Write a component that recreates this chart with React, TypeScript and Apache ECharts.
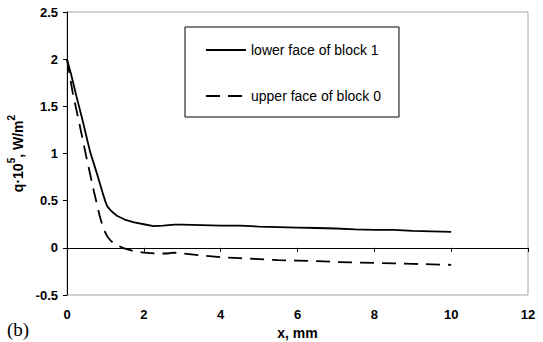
import React, { useEffect, useRef } from "react";
import * as echarts from "echarts";

const lowerX = [0, 0.1, 0.25, 0.4, 0.6, 0.8, 0.93, 1.0, 1.05, 1.15, 1.3, 1.5, 1.75, 2.0, 2.25, 2.5, 2.8, 3.0, 3.5, 4.0, 4.5, 5.0, 5.5, 6.0, 6.5, 7.0, 7.5, 8.0, 8.5, 9.0, 9.5, 10];
const lowerY = [2.0, 1.85, 1.6, 1.36, 1.02, 0.76, 0.58, 0.49, 0.44, 0.39, 0.34, 0.3, 0.27, 0.25, 0.23, 0.235, 0.245, 0.245, 0.24, 0.235, 0.235, 0.225, 0.22, 0.215, 0.21, 0.205, 0.195, 0.19, 0.19, 0.18, 0.175, 0.17];

const upperX = [0, 0.15, 0.3, 0.5, 0.7, 0.85, 0.95, 1.05, 1.15, 1.3, 1.45, 1.6, 1.8, 2.0, 2.3, 2.6, 2.8, 3.0, 3.5, 4.0, 4.5, 5.0, 5.5, 6.0, 6.5, 7.0, 7.5, 8.0, 8.5, 9.0, 9.5, 10];
const upperY = [2.0, 1.64, 1.36, 0.97, 0.6, 0.34, 0.2, 0.12, 0.07, 0.03, 0.0, -0.02, -0.04, -0.05, -0.06, -0.06, -0.05, -0.06, -0.08, -0.1, -0.11, -0.12, -0.13, -0.135, -0.14, -0.15, -0.155, -0.16, -0.165, -0.17, -0.175, -0.18];

const seriesNames = ["lower face of block 1", "upper face of block 0"];

const FONT = "Liberation Sans, Arial, sans-serif";

export default function App() {
  const ref = useRef<HTMLDivElement>(null);
  useEffect(() => {
    if (!ref.current) return;
    const chart = echarts.init(ref.current, null, { renderer: "svg" });
    chart.setOption({
      animation: false,
      backgroundColor: "#fff",
      grid: {
        left: 67,
        right: 15,
        top: 12,
        bottom: 47,
        show: true,
        borderColor: "#a6a6a6",
        borderWidth: 1,
        containLabel: false,
        outerBoundsMode: "none",
      },
      legend: {
        left: 185,
        top: 27,
        orient: "vertical",
        backgroundColor: "#fff",
        borderColor: "#000",
        borderWidth: 1,
        padding: [16, 18, 14, 20],
        itemGap: 32,
        itemWidth: 40,
        itemHeight: 14,
        itemStyle: { opacity: 0 },
        textStyle: { fontSize: 14, color: "#000", fontFamily: FONT },
        data: seriesNames,
      },
      xAxis: {
        type: "value",
        min: 0,
        max: 12,
        interval: 2,
        name: "x, mm",
        nameLocation: "middle",
        nameGap: 31,
        nameTextStyle: { fontSize: 14, fontWeight: "bold", color: "#000", fontFamily: FONT },
        axisLine: { lineStyle: { color: "#000", width: 1 } },
        axisTick: { show: true, inside: false, length: 4, lineStyle: { color: "#000" } },
        axisLabel: { fontSize: 13, fontWeight: "bold", color: "#000", margin: 13, fontFamily: FONT },
        splitLine: { show: false },
      },
      yAxis: {
        type: "value",
        min: -0.5,
        max: 2.5,
        interval: 0.5,
        name: "{a|q·10}{s|5}{a|, W/m}{s|2}",
        nameLocation: "middle",
        nameGap: 36,
        nameRotate: 90,
        nameTextStyle: {
          rich: {
            a: { fontSize: 14, fontWeight: "bold", color: "#000", fontFamily: FONT, lineHeight: 18, verticalAlign: "bottom" },
            s: { fontSize: 10, fontWeight: "bold", color: "#000", fontFamily: FONT, lineHeight: 18, verticalAlign: "top" },
          },
        },
        axisLine: { show: true, lineStyle: { color: "#000", width: 1 } },
        axisTick: { show: true, inside: false, length: 4, lineStyle: { color: "#000" } },
        axisLabel: { fontSize: 13, fontWeight: "bold", color: "#000", margin: 9, fontFamily: FONT },
        splitLine: { show: false },
      },
      graphic: [
        {
          type: "text",
          left: 7,
          top: 320,
          style: { text: "(b)", fontSize: 19, fontFamily: "Liberation Serif, Times New Roman, serif", fill: "#000" },
        },
      ],
      series: [
        {
          name: seriesNames[0],
          type: "line",
          showSymbol: false,
          symbol: "none",
          lineStyle: { color: "#000", width: 1.8, type: "solid" },
          itemStyle: { color: "#000" },
          data: lowerX.map((x, i) => [x, lowerY[i]]),
        },
        {
          name: seriesNames[1],
          type: "line",
          showSymbol: false,
          symbol: "none",
          lineStyle: { color: "#000", width: 1.8, type: [14, 8] },
          itemStyle: { color: "#000" },
          data: upperX.map((x, i) => [x, upperY[i]]),
        },
      ],
    });
    return () => chart.dispose();
  }, []);
  return (
    <div
      ref={ref}
      style={{ position: "fixed", left: 0, top: 0, width: 543, height: 342, background: "#fff" }}
    />
  );
}
